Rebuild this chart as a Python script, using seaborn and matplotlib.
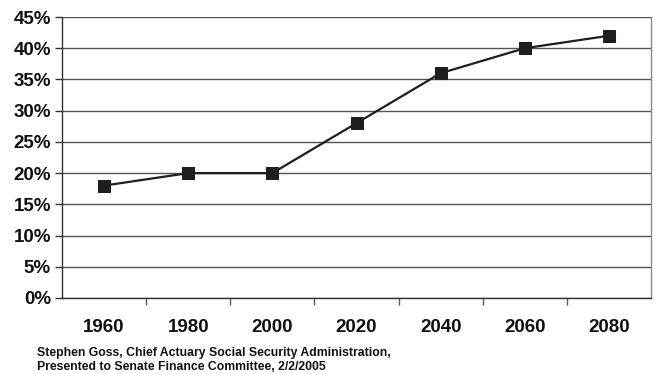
import matplotlib
matplotlib.use("Agg")
import matplotlib.pyplot as plt
import seaborn as sns
import pandas as pd
from matplotlib.ticker import FixedLocator, PercentFormatter

years = ["1960", "1980", "2000", "2020", "2040", "2060", "2080"]
share_pct = [18, 20, 20, 28, 36, 40, 42]
y_ticks = [0, 5, 10, 15, 20, 25, 30, 35, 40, 45]
source_lines = [
    "Stephen Goss, Chief Actuary Social Security Administration,",
    "Presented to Senate Finance Committee, 2/2/2005",
]

sns.set_theme(style="white")
plt.rcParams["font.family"] = ["Liberation Sans", "DejaVu Sans"]

df = pd.DataFrame({"year": years, "share": share_pct})

fig = plt.figure(figsize=(6.57, 3.74), dpi=100)
ax = fig.add_axes([62 / 657, 1 - 298 / 374, (651 - 62) / 657, (298 - 17) / 374])

sns.lineplot(data=df, x="year", y="share", ax=ax, color="#1e1e1e",
             linewidth=1.6, marker="s", markersize=8,
             markeredgecolor="#1e1e1e", markerfacecolor="#1e1e1e", sort=False)

ax.set_xlim(-0.5, len(years) - 0.5)
ax.set_ylim(0, 45)
ax.set_yticks(y_ticks)
ax.yaxis.set_major_formatter(PercentFormatter(decimals=0))
ax.yaxis.grid(True, color="#555555", linewidth=1.0)
ax.set_axisbelow(True)

ax.xaxis.set_minor_locator(FixedLocator([i + 0.5 for i in range(len(years) - 1)]))
ax.tick_params(axis="both", which="both", bottom=True, left=True)
ax.tick_params(axis="x", which="major", length=0, pad=15, labelsize=13.5)
ax.tick_params(axis="x", which="minor", length=5, width=1, color="#555555", direction="out")
ax.tick_params(axis="y", which="major", length=5, width=1, color="#333333",
               direction="out", pad=3, labelsize=13.5)
for lab in ax.get_xticklabels() + ax.get_yticklabels():
    lab.set_fontweight("bold")
    lab.set_color("#111111")

ax.set_xlabel("")
ax.set_ylabel("")
for side in ["left", "bottom"]:
    ax.spines[side].set_color("#333333")
    ax.spines[side].set_linewidth(1.0)
ax.spines["right"].set_color("#888888")
ax.spines["right"].set_linewidth(1.0)
ax.spines["top"].set_visible(False)

fig.text(37 / 657, 1 - 353 / 374, source_lines[0], fontsize=8.8, fontweight="bold",
         color="#111111", va="center")
fig.text(37 / 657, 1 - 367 / 374, source_lines[1], fontsize=8.8, fontweight="bold",
         color="#111111", va="center")

fig.savefig("out.png", dpi=100, facecolor="white")
